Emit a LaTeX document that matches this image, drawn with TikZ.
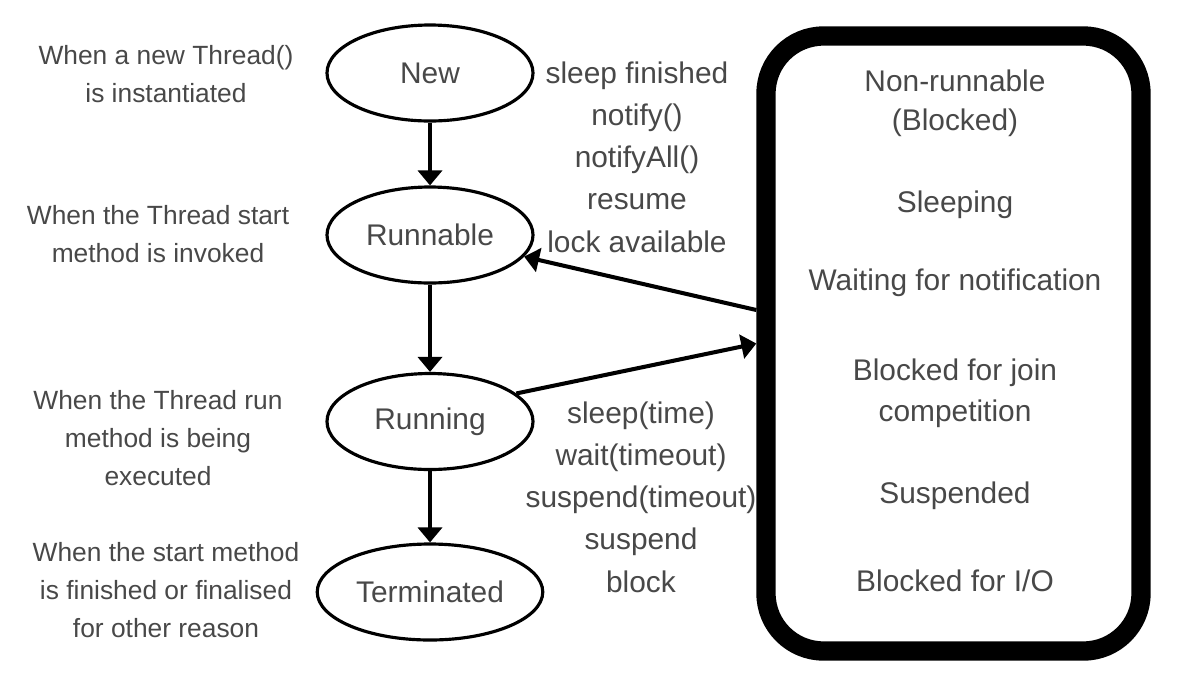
\documentclass[tikz,border=0pt]{standalone}
\usepackage{fontspec}
\setmainfont{Liberation Sans}
\usetikzlibrary{arrows.meta, shapes.geometric}
\definecolor{my_textgray}{HTML}{484848}

\begin{document}
\begin{tikzpicture}[
    state/.style={ellipse, draw=black, line width=1.8pt,
        minimum width=4.12cm, minimum height=1.92cm,
        text=my_textgray, font=\fontsize{17}{20}\selectfont},
    note/.style={align=center, text=my_textgray,
        font=\fontsize{15}{21.5}\selectfont},
    event/.style={align=center, text=my_textgray,
        font=\fontsize{17}{24}\selectfont},
    boxtext/.style={text=my_textgray, font=\fontsize{17}{24}\selectfont},
    trans/.style={line width=2.3pt, -{Triangle[length=0.3cm, width=0.48cm]}},
    blockbox/.style={draw=black, line width=11pt, rounded corners=1.15cm,
        minimum width=7.5cm, minimum height=12.3cm}
]
\useasboundingbox (0,0) rectangle (23.64,-13.64);

% -------- Thread states ---------------------------------------
\node[state] (new)        at (8.60, -1.46)  {New};
\node[state] (runnable)   at (8.60, -4.70)  {Runnable};
\node[state] (running)    at (8.60, -8.43)  {Running};
\node[state] (terminated) at (8.60, -11.84) {Terminated};

% -------- Descriptions on the left ----------------------------
\node[note] (new_note)  at (3.32, -1.48)
    {When a new Thread()\\is instantiated};
\node[note] (runnable_note) at (3.16, -4.68)
    {When the Thread start\\method is invoked};
\node[note] (running_note) at (3.16, -8.76)
    {When the Thread run\\method is being\\executed};
\node[note] (terminated_note) at (3.32, -11.80)
    {When the start method\\is finished or finalised\\for other reason};

% -------- Non-runnable box ------------------------------------
\node[blockbox] (blocked) at (19.07, -6.87) {};
\node[boxtext] (nonrun)   at (19.10, -1.62) {Non-runnable};
\node[boxtext] (nonrun2)  at (19.10, -2.46) {(Blocked)};
\node[boxtext] (sleeping) at (19.10, -4.10) {Sleeping};
\node[boxtext] (waiting)  at (19.10, -5.66) {Waiting for notification};
\node[boxtext] (join)     at (19.10, -7.46) {Blocked for join};
\node[boxtext] (join2)    at (19.10, -8.28) {competition};
\node[boxtext] (suspended) at (19.10, -9.92) {Suspended};
\node[boxtext] (blockio)  at (19.10, -11.62) {Blocked for I/O};

% -------- Transition events -----------------------------------
\node[event] (wake_events) at (12.74, -3.14)
    {sleep finished\\notify()\\notifyAll()\\resume\\lock available};
\node[event] (block_events) at (12.82, -9.94)
    {sleep(time)\\wait(timeout)\\suspend(timeout)\\suspend\\block};

% -------- Transitions -----------------------------------------
% west anchor already sits on the outer edge of the thick border
\coordinate (blk_out) at ([yshift=0.67cm]blocked.west);
\coordinate (blk_in)  at (blocked.west);

\draw[trans] (new) -- (runnable);
\draw[trans] (runnable) -- (running);
\draw[trans] (running) -- (terminated);
\draw[trans] (blk_out) -- (runnable);
\draw[trans] (running.18) -- (blk_in);

\end{tikzpicture}
\end{document}
